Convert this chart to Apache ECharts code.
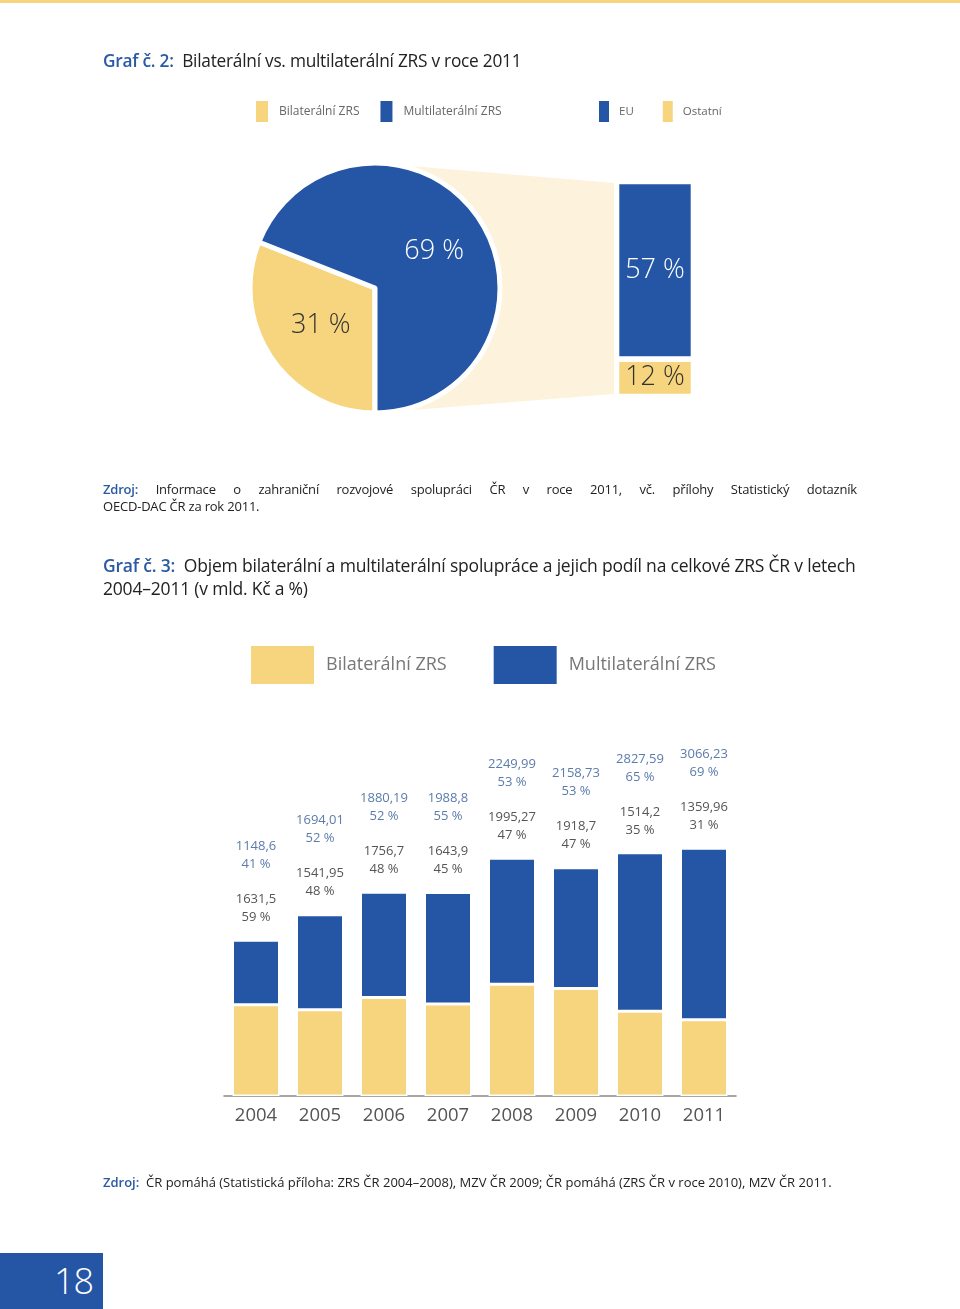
<!DOCTYPE html>
<html><head><meta charset="utf-8">
<script src="https://cdn.jsdelivr.net/npm/echarts/dist/echarts.min.js"></script>
<style>
html,body{margin:0;padding:0;background:#fff;}
body{width:960px;height:1309px;position:relative;overflow:hidden;font-family:"Open Sans",sans-serif;color:#222;}
#chart{position:absolute;left:0;top:0;width:960px;height:1309px;}
.t{position:absolute;z-index:5;white-space:nowrap;}
.blue{color:#2a5aa2;font-weight:600;}
#topline{position:absolute;left:0;top:0;width:960px;height:3px;background:#f6d57e;z-index:5;}
#pg{position:absolute;left:0;top:1253px;width:103px;height:56px;background:#2456a5;color:#fff;font-size:36px;line-height:56px;text-align:right;box-sizing:border-box;padding-right:10px;z-index:5;font-weight:300;letter-spacing:-1px;}
</style></head>
<body>
<div id="topline"></div>
<div id="chart"></div>
<div class="t" style="left:103px;top:50px;font-size:17.3px;line-height:22px;letter-spacing:-0.25px;"><span class="blue">Graf č. 2:</span>&nbsp; Bilaterální vs. multilaterální ZRS v roce 2011</div>
<div class="t" style="left:103px;top:481px;width:754px;font-size:13px;line-height:17px;text-align:justify;text-align-last:justify;white-space:normal;letter-spacing:-0.2px;"><span class="blue">Zdroj:</span> Informace o zahraniční rozvojové spolupráci ČR v roce 2011, vč. přílohy Statistický dotazník</div>
<div class="t" style="left:103px;top:498px;font-size:13px;line-height:17px;letter-spacing:-0.2px;">OECD-DAC ČR za rok 2011.</div>
<div class="t" style="left:103px;top:554px;font-size:17.5px;line-height:23px;letter-spacing:-0.2px;"><span class="blue">Graf č. 3:</span>&nbsp; Objem bilaterální a multilaterální spolupráce a jejich podíl na celkové ZRS ČR v letech<br>2004–2011 (v mld. Kč a %)</div>
<div class="t" style="left:103px;top:1174px;font-size:13px;line-height:17px;letter-spacing:0px;"><span class="blue">Zdroj:</span>&nbsp; ČR pomáhá (Statistická příloha: ZRS ČR 2004–2008), MZV ČR 2009; ČR pomáhá (ZRS ČR v roce 2010), MZV ČR 2011.</div>
<div id="pg">18</div>
<script>
// ---- data ----
const pieNames = ['Bilaterální ZRS', 'Multilaterální ZRS'];
const pieValues = [31, 69];
const breakdownNames = ['EU', 'Ostatní'];
const breakdownValues = [57, 12];
const years = ['2004', '2005', '2006', '2007', '2008', '2009', '2010', '2011'];
const bilateral = [1631.5, 1541.95, 1756.7, 1643.9, 1995.27, 1918.7, 1514.2, 1359.96];
const multilateral = [1148.6, 1694.01, 1880.19, 1988.8, 2249.99, 2158.73, 2827.59, 3066.23];
const bilateralPct = [59, 48, 48, 45, 47, 47, 35, 31];
const multilateralPct = [41, 52, 52, 55, 53, 53, 65, 69];

const BLUE = '#2456a5', YELLOW = '#f6d57e', CREAM = '#fdf3dc';
const FONT = '"Open Sans", sans-serif';
const PIE_CX = 375, PIE_CY = 288, PIE_R = 125;
const fmt = v => String(v).replace('.', ',');

const chart = echarts.init(document.getElementById('chart'), null, {renderer: 'canvas'});
const breakdownTotal = breakdownValues.reduce((a, b) => a + b, 0);

const option = {
  animation: false,
  textStyle: {fontFamily: FONT},
  legend: [
    {data: pieNames, left: 256, top: 101, padding: 0, icon: 'rect', itemWidth: 12, itemHeight: 21, itemGap: 21,
     itemStyle: {borderWidth: 0}, selectedMode: false,
     textStyle: {fontSize: 12, color: '#666', fontFamily: FONT, padding: [0, 0, 0, 6]}},
    {data: breakdownNames, left: 599, top: 101, padding: 0, icon: 'rect', itemWidth: 10, itemHeight: 21, itemGap: 29,
     itemStyle: {borderWidth: 0}, selectedMode: false,
     textStyle: {fontSize: 11.5, color: '#666', fontFamily: FONT, padding: [0, 0, 0, 5]}},
    {data: pieNames, left: 251, top: 646, padding: 0, icon: 'rect', itemWidth: 63, itemHeight: 38, itemGap: 47,
     itemStyle: {borderWidth: 0}, selectedMode: false,
     textStyle: {fontSize: 18, color: '#777', fontFamily: FONT, padding: [0, 0, 0, 7]}}
  ],
  grid: [
    {left: 614, width: 82, top: 181.5, height: 215},
    {left: 224, width: 512, top: 816, height: 280}
  ],
  xAxis: [
    {gridIndex: 0, type: 'category', data: ['Multilaterální ZRS'], show: false},
    {gridIndex: 1, type: 'category', data: years,
     axisLine: {lineStyle: {color: '#8a8a8a', width: 1.5}}, axisTick: {show: false},
     axisLabel: {fontSize: 18.5, color: '#555', margin: 10, fontFamily: FONT}}
  ],
  yAxis: [
    {gridIndex: 0, type: 'value', min: 0, max: breakdownTotal, show: false},
    {gridIndex: 1, type: 'value', min: 0, max: 5000, show: false}
  ],
  series: [
    {type: 'pie', center: [PIE_CX, PIE_CY], radius: PIE_R, startAngle: 270, clockwise: true,
     z: 3, silent: true,
     itemStyle: {borderColor: '#fff', borderWidth: 5},
     label: {position: 'inner', fontSize: 27, fontWeight: 300, fontFamily: FONT, formatter: '{c} %'},
     labelLine: {show: false},
     data: [
       {name: pieNames[0], value: pieValues[0], itemStyle: {color: YELLOW}, label: {color: '#333'}},
       {name: pieNames[1], value: pieValues[1], itemStyle: {color: BLUE}, label: {color: '#fff', offset: [5, 0]}}
     ]},
    {name: breakdownNames[1], type: 'bar', xAxisIndex: 0, yAxisIndex: 0, stack: 'b', barWidth: 77,
     data: [breakdownValues[1]], itemStyle: {color: YELLOW, borderColor: '#fff', borderWidth: 2.8},
     label: {show: true, position: 'inside', color: '#333', fontSize: 27, fontWeight: 300, fontFamily: FONT, formatter: '{c} %'}},
    {name: breakdownNames[0], type: 'bar', xAxisIndex: 0, yAxisIndex: 0, stack: 'b', barWidth: 77,
     data: [breakdownValues[0]], itemStyle: {color: BLUE, borderColor: '#fff', borderWidth: 2.8},
     label: {show: true, position: 'inside', color: '#fff', fontSize: 27, fontWeight: 300, fontFamily: FONT, formatter: '{c} %'}},
    {name: pieNames[0], type: 'bar', xAxisIndex: 1, yAxisIndex: 1, stack: 'a', barWidth: 47,
     data: bilateral, itemStyle: {color: YELLOW, borderColor: '#fff', borderWidth: 1.5}},
    {name: pieNames[1], type: 'bar', xAxisIndex: 1, yAxisIndex: 1, stack: 'a', barWidth: 47,
     data: multilateral, itemStyle: {color: BLUE, borderColor: '#fff', borderWidth: 1.5},
     label: {show: true, position: 'top', distance: 14,
       formatter: p => {
         const i = p.dataIndex;
         return '{m|' + fmt(multilateral[i]) + '}\n{m|' + multilateralPct[i] + ' %}\n{g| }\n{b|' +
                fmt(bilateral[i]) + '}\n{b|' + bilateralPct[i] + ' %}';
       },
       rich: {
         m: {fontSize: 13, color: '#5b7cab', lineHeight: 18, fontFamily: FONT},
         g: {fontSize: 6, lineHeight: 17},
         b: {fontSize: 13, color: '#555', lineHeight: 18, fontFamily: FONT}
       }}}
  ]
};
chart.setOption(option);

// connector between pie and breakdown bar, from the library's own scale
const topPt = chart.convertToPixel({xAxisIndex: 0, yAxisIndex: 0}, [0, breakdownTotal]);
const botPt = chart.convertToPixel({xAxisIndex: 0, yAxisIndex: 0}, [0, 0]);
const barLeft = topPt[0] - 77 / 2;
chart.setOption({
  graphic: [{
    type: 'polygon', z: 0, silent: true,
    shape: {points: [[PIE_CX, PIE_CY - PIE_R], [barLeft - 2.5, topPt[1] + 1.5],
                     [barLeft - 2.5, botPt[1] - 2.5], [PIE_CX, PIE_CY + PIE_R]]},
    style: {fill: CREAM}
  }]
});
</script>
</body></html>
